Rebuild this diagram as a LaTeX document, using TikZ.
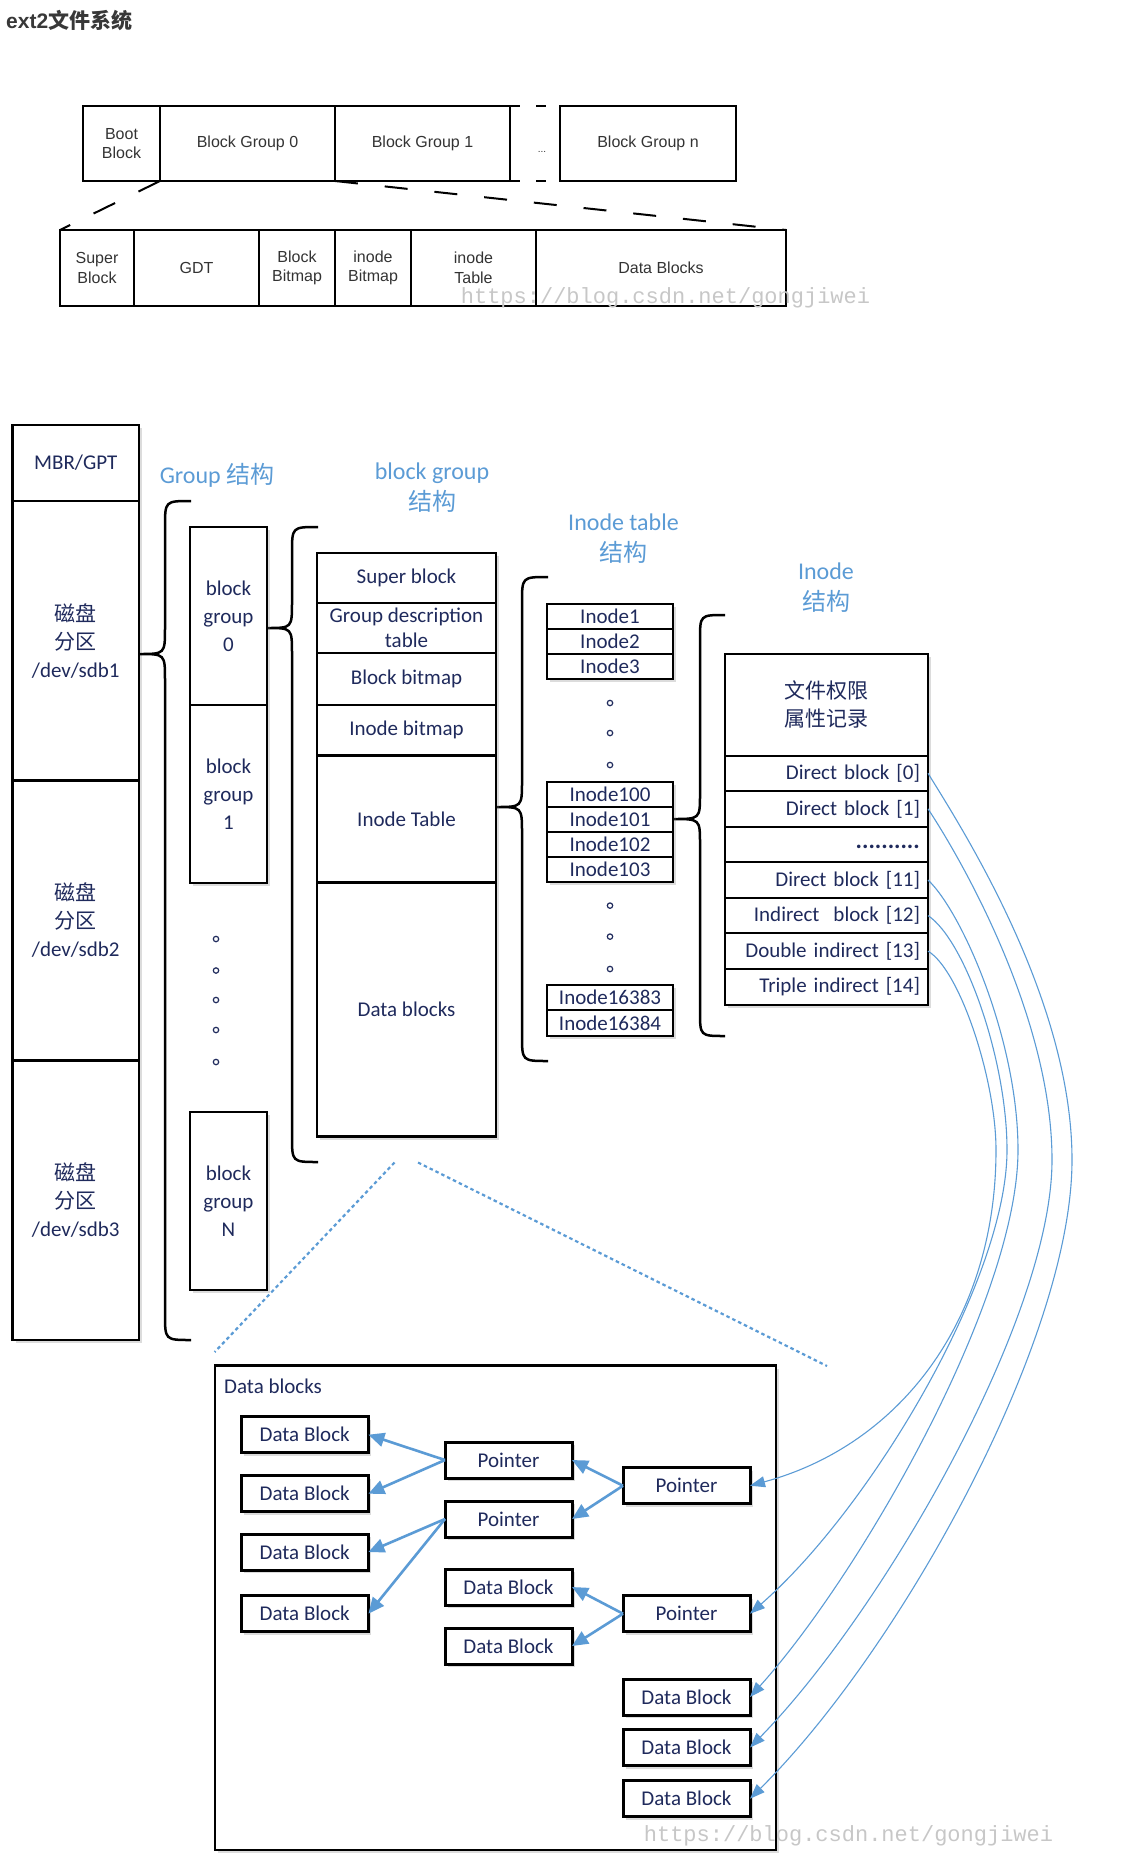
\documentclass[tikz,border=0pt]{standalone}
\usepackage{fontspec}
\setmainfont{Carlito}
\newfontfamily\cjk{Noto Sans CJK SC}
\newfontfamily\arialf{Liberation Sans}
\newfontfamily\monof{Liberation Mono}
\usetikzlibrary{shadows,arrows.meta}
\definecolor{ink}{HTML}{1F2A5C}
\definecolor{hblue}{HTML}{5B9BD5}
\definecolor{tgray}{HTML}{333333}

\begin{document}
\begin{tikzpicture}[x=1pt,y=-1pt,
  wh/.style 2 args={minimum width=#1pt,minimum height=#2pt},
  tbox/.style={draw=black,line width=2pt,inner sep=0pt,outer sep=0pt,anchor=north west,
    align=center,text=tgray,font=\arialf\fontsize{16}{19.5}\selectfont},
  tdash/.style={draw=black,line width=2pt},
  box/.style={draw=black,line width=2.5pt,fill=white,inner sep=0pt,outer sep=0pt,
    anchor=north west,align=center,text=ink,font=\fontsize{21}{28}\selectfont},
  ibox/.style={box,line width=2pt},
  rowbox/.style={box,line width=2pt,text width=187pt,align=right},
  dbox/.style={box,line width=3pt},
  shad/.style={drop shadow={shadow xshift=3pt,shadow yshift=-3pt,opacity=.28}},
  hd/.style={text=hblue,inner sep=0pt,align=center,font=\fontsize{24}{31}\selectfont},
  brace/.style={draw=black,line width=2.5pt},
  ring/.style={draw=ink,line width=1.2pt},
  dline/.style={draw=hblue,line width=2.2pt,dash pattern=on 3.5pt off 3pt},
  parr/.style={draw=hblue,line width=2.6pt,-{Triangle[length=16pt,width=14pt]}},
  carr/.style={draw=hblue,line width=1.1pt,-{Triangle[length=15pt,width=11pt]}},
  wm/.style={text=black!22,inner sep=0pt,font=\monof\fontsize{22}{23}\selectfont}
]
\useasboundingbox (0,0) rectangle (1127,1860);

% ---------- title ----------
\node[anchor=west,inner sep=0pt,text=black!78,font=\bfseries\fontsize{21}{25}\selectfont]
  (title) at (6,20) {{\arialf ext2}{\cjk 文件系统}};

% ---------- ext2 layout strip ----------
\node[tbox,wh={77}{75}]  (boot) at (83,106)  {Boot\\Block};
\node[tbox,wh={175}{75}] (bgzt) at (160,106) {Block Group 0};
\node[tbox,wh={175}{75}] (bgot) at (335,106) {Block Group 1};
\node[tbox,wh={176}{75}] (bgnt) at (560,106) {Block Group n};
\draw[tdash,dash pattern=on 10pt off 16pt] (bgot.north east) -- (bgnt.north west);
\draw[tdash,dash pattern=on 10pt off 16pt] (bgot.south east) -- (bgnt.south west);
\node[inner sep=0pt,text=tgray,font=\arialf\fontsize{10}{12}\selectfont] (gapdots) at (542,152) {...};

\node[tbox,wh={74}{76}]  (supb) at (60,230)  {Super\\Block};
\node[tbox,wh={125}{76}] (gdtt) at (134,230) {GDT};
\node[tbox,wh={76}{76}]  (bbmt) at (259,230) {Block\\Bitmap};
\node[tbox,wh={76}{76}]  (ibmt) at (335,230) {inode\\Bitmap};
\node[tbox,wh={125}{76}] (itbt) at (411,230) {inode\\Table};
\node[tbox,wh={250}{76}] (datt) at (536,230) {Data Blocks};
\draw[tdash,dash pattern=on 24pt off 26pt] (bgzt.south west) -- (supb.north west);
\draw[tdash,dash pattern=on 23pt off 27pt] (bgzt.south east) -- (datt.north east);

\node[wm] (wmtop) at (665.5,298) {https://blog.csdn.net/gongjiwei};

% ---------- disk partitions ----------
\node[box,shad,wh={126.5}{76}]    (mbr)  at (12.5,425)    {MBR/GPT};
\node[box,shad,wh={126.5}{279.5}] (sdba) at (12.5,501)    {{\cjk 磁盘}\\{\cjk 分区}\\/dev/sdb1};
\node[box,shad,wh={126.5}{280}]   (sdbb) at (12.5,780.5)  {{\cjk 磁盘}\\{\cjk 分区}\\/dev/sdb2};
\node[box,shad,wh={126.5}{279.5}] (sdbc) at (12.5,1060.5) {{\cjk 磁盘}\\{\cjk 分区}\\/dev/sdb3};

% ---------- headings ----------
\node[hd] (hgroup) at (217,475)   {Group {\cjk 结构}};
\node[hd] (hbg)    at (432,487.5) {block group\\{\cjk 结构}};
\node[hd] (hit)    at (623.5,538.5) {Inode table\\{\cjk 结构}};
\node[hd] (hino)   at (826,588)   {Inode\\{\cjk 结构}};

% ---------- braces ----------
\draw[brace] (191,501) .. controls (165,501) .. (165,527) -- (165,628)
  .. controls (165,654) .. (139,654) .. controls (165,654) .. (165,680)
  -- (165,1314) .. controls (165,1340) .. (191,1340);
\draw[brace] (318,527) .. controls (292,527) .. (292,553) -- (292,602)
  .. controls (292,628) .. (267,628) .. controls (292,628) .. (292,654)
  -- (292,1136) .. controls (292,1162) .. (318,1162);
\draw[brace] (548,577) .. controls (522,577) .. (522,603) -- (522,781)
  .. controls (522,807) .. (496,807) .. controls (522,807) .. (522,833)
  -- (522,1035) .. controls (522,1061) .. (548,1061);
\draw[brace] (725,615) .. controls (700,615) .. (700,640) -- (700,794)
  .. controls (700,819) .. (673,819) .. controls (700,819) .. (700,844)
  -- (700,1011) .. controls (700,1036) .. (725,1036);

% ---------- block groups ----------
\begin{scope}[every node/.append style={font=\fontsize{21}{26}\selectfont}]
\node[box,shad,wh={77}{178}] (bgz) at (190,527)  {block\\group\\0};
\node[box,shad,wh={77}{178}] (bgo) at (190,705)  {block\\group\\1};
\node[box,shad,wh={77}{178}] (bgN) at (190,1112) {block\\group\\N};
\end{scope}
\foreach \yy in {939,970.5,1000,1030,1062} \draw[ring] (216,\yy) circle (2.7);

% ---------- block group layout ----------
\node[box,shad,wh={179}{50}]    (sblk) at (317,553)   {Super block};
\node[box,shad,wh={179}{50},font=\fontsize{21}{25.5}\selectfont] (gdsc) at (317,603) {Group description\\table};
\node[box,shad,wh={179}{52}]    (bbmp) at (317,653)   {Block bitmap};
\node[box,shad,wh={179}{50.5}]  (ibmp) at (317,705)   {Inode bitmap};
\node[box,shad,wh={179}{127.2}] (itab) at (317,755.5) {Inode Table};
\node[box,shad,wh={179}{254}]   (dblk) at (317,882.7) {Data blocks};

% ---------- inode table ----------
\node[ibox,shad,wh={126}{25.3}] (ia) at (547,603.5) {Inode1};
\node[ibox,shad,wh={126}{25.3}] (ib) at (547,628.8) {Inode2};
\node[ibox,shad,wh={126}{25.3}] (ic) at (547,654.1) {Inode3};
\foreach \yy in {703,733,765} \draw[ring] (610,\yy) circle (2.7);
\node[ibox,shad,wh={126}{25.1}] (id) at (547,781.7) {Inode100};
\node[ibox,shad,wh={126}{25.1}] (ie) at (547,806.8) {Inode101};
\node[ibox,shad,wh={126}{25.1}] (if) at (547,831.9) {Inode102};
\node[ibox,shad,wh={126}{25.1}] (ig) at (547,857)   {Inode103};
\foreach \yy in {905.6,936.6,969} \draw[ring] (610,\yy) circle (2.7);
\node[ibox,shad,wh={126}{25.35}] (ih) at (547,984.8)  {Inode16383};
\node[ibox,shad,wh={126}{25.35}] (ii) at (547,1010.15) {Inode16384};

% ---------- inode layout ----------
\node[ibox,shad,wh={203}{101.5}] (ihead) at (725,654) {{\cjk 文件权限}\\{\cjk 属性记录}};
\node[rowbox,shad,wh={203}{35.57}] (rzero) at (725,755.5)  {Direct block [0]};
\node[rowbox,shad,wh={203}{35.57}] (rone)  at (725,791.07) {Direct block [1]};
\node[rowbox,shad,wh={203}{35.57}] (rdots) at (725,826.64) {};
\node[anchor=base east,inner sep=0pt,text=ink,font=\bfseries\fontsize{24}{26}\selectfont] (rdtxt) at (920,848) {..........};
\node[rowbox,shad,wh={203}{35.57}] (relv)  at (725,862.21) {Direct block [11]};
\node[rowbox,shad,wh={203}{35.57}] (rtwl)  at (725,897.78) {Indirect\ \ block [12]};
\node[rowbox,shad,wh={203}{35.57}] (rthr)  at (725,933.35) {Double indirect [13]};
\node[rowbox,shad,wh={203}{35.57}] (rfor)  at (725,968.92) {Triple indirect [14]};

% ---------- zoom lines to data blocks ----------
\coordinate (zla) at (394.5,1162.5);
\coordinate (zlb) at (214.7,1352);
\coordinate (zra) at (418,1162.5);
\coordinate (zrb) at (827,1366);
\draw[dline] (zla) -- (zlb);
\draw[dline] (zra) -- (zrb);

% ---------- data blocks detail ----------
\node[box,shad,wh={561}{484.3}] (area) at (215,1365.7) {};
\node[anchor=west,inner sep=0pt,text=ink,font=\fontsize{21}{25}\selectfont] (arealab) at (224,1386.7) {Data blocks};

\node[dbox,shad,wh={127.4}{36}] (la) at (241,1416.7) {Data Block};
\node[dbox,shad,wh={127.4}{36}] (lb) at (241,1475.7) {Data Block};
\node[dbox,shad,wh={127.4}{36}] (lc) at (241,1534)   {Data Block};
\node[dbox,shad,wh={127.4}{36}] (ld) at (241,1595.7) {Data Block};

\node[dbox,shad,wh={127}{36}] (mpa) at (445,1442)   {Pointer};
\node[dbox,shad,wh={127}{36}] (mpb) at (445,1501)   {Pointer};
\node[dbox,shad,wh={127}{36}] (mda) at (445,1569)   {Data Block};
\node[dbox,shad,wh={127}{36}] (mdb) at (445,1628)   {Data Block};

\node[dbox,shad,wh={127}{36}] (rpa) at (623,1467.7) {Pointer};
\node[dbox,shad,wh={127}{36}] (rpb) at (623,1595.7) {Pointer};
\node[dbox,shad,wh={127}{36}] (rda) at (623,1679)   {Data Block};
\node[dbox,shad,wh={127}{36}] (rdb) at (623,1729.5) {Data Block};
\node[dbox,shad,wh={127}{36}] (rdc) at (623,1780.7) {Data Block};

\draw[parr] (mpa.west) -- (la.east);
\draw[parr] (mpa.west) -- (lb.east);
\draw[parr] (mpb.west) -- (lc.east);
\draw[parr] (mpb.west) -- (ld.east);
\draw[parr] (rpa.west) -- (mpa.east);
\draw[parr] (rpa.west) -- (mpb.east);
\draw[parr] (rpb.west) -- (mda.east);
\draw[parr] (rpb.west) -- (mdb.east);

% ---------- block pointers of the inode ----------
\draw[carr] (rzero.east) .. controls (963,830) and (1072,1000) .. (1072,1160)
  .. controls (1072,1340) and (900,1650) .. (rdc.east);
\draw[carr] (rone.east) .. controls (965,865) and (1052,1020) .. (1052,1160)
  .. controls (1052,1320) and (880,1615) .. (rdb.east);
\draw[carr] (relv.east) .. controls (962,912) and (1018,1040) .. (1018,1150)
  .. controls (1018,1300) and (860,1575) .. (rda.east);
\draw[carr] (rtwl.east) .. controls (965,940) and (1007,1060) .. (1007,1150)
  .. controls (1007,1280) and (870,1509) .. (rpb.east);
\draw[carr] (rthr.east) .. controls (960,970) and (996,1080) .. (996,1150)
  .. controls (996,1320) and (900,1445) .. (rpa.east);

\node[wm] (wmbot) at (848.5,1836) {https://blog.csdn.net/gongjiwei};
\end{tikzpicture}
\end{document}
